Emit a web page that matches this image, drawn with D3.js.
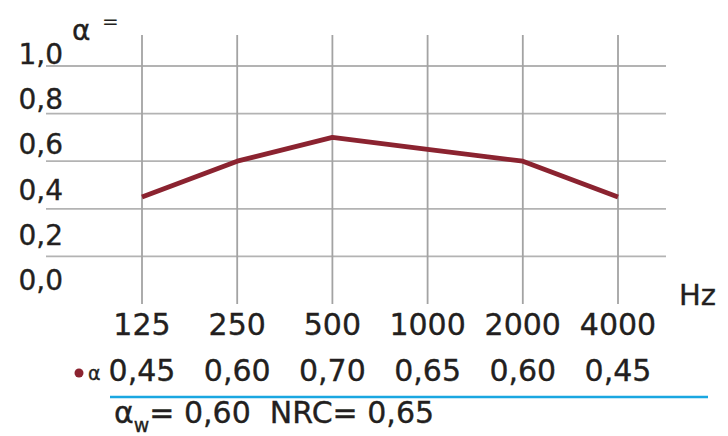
<!DOCTYPE html>
<html>
<head>
<meta charset="UTF-8">
<title>Absorption chart</title>
<script src="https://cdn.jsdelivr.net/npm/d3@7/dist/d3.min.js"></script>
<style>
	body { margin: 0; background: #fff; }
	svg text { font-family: "DejaVu Sans", sans-serif; fill: #231f20; stroke: #231f20; stroke-width: 0.35px; white-space: pre; }
</style>
</head>
<body>
<svg id="chart" width="728" height="436"></svg>
<script>
	// values
	var freqs = ["125", "250", "500", "1000", "2000", "4000"];
	var alpha = [0.45, 0.60, 0.70, 0.65, 0.60, 0.45];
	var yTicks = [0.0, 0.2, 0.4, 0.6, 0.8, 1.0];
	var alphaW = 0.60;
	var nrc = 0.65;

	var svg = d3.select("#chart");
	var comma = function (f) { return function (v) { return d3.format(f)(v).replace(".", ","); }; };
	var fmt1 = comma(".1f"), fmt2 = comma(".2f");

	var x = d3.scalePoint().domain(freqs).range([142, 618]);
	var y = d3.scaleLinear().domain([0, 1]).range([304, 66]);
	// tick labels in the original drift a bit from the grid, so they get their own scale
	var yLab = d3.scaleLinear().domain([0, 1]).range([290, 64]);

	// grid
	var grid = svg.append("g");
	grid.selectAll(".h").data(yTicks.filter(function (d) { return d > 0; })).enter()
		.append("line")
		.attr("x1", 46).attr("x2", 666)
		.attr("y1", function (d) { return y(d); }).attr("y2", function (d) { return y(d); })
		.attr("stroke", "#b3b3b3").attr("stroke-width", 1.8);
	grid.selectAll(".v").data(freqs).enter()
		.append("line")
		.attr("x1", function (d) { return x(d); }).attr("x2", function (d) { return x(d); })
		.attr("y1", 35).attr("y2", 304)
		.attr("stroke", "#a3a3a3").attr("stroke-width", 1.8);

	// y labels
	svg.selectAll(".ylab").data(yTicks).enter()
		.append("text")
		.attr("x", 63).attr("y", function (d) { return yLab(d); })
		.attr("text-anchor", "end")
		.style("font-size", "28px")
		.text(fmt1);

	svg.append("text").attr("x", 72).attr("y", 40).style("font-size", "28px").text("α");
	svg.append("text").attr("x", 102).attr("y", 28).style("font-size", "20px").style("stroke-width", 0).text("=");
	svg.append("text").attr("x", 679).attr("y", 305).style("font-size", "29px").text("Hz");

	// curve
	var line = d3.line()
		.x(function (d, i) { return x(freqs[i]); })
		.y(function (d) { return y(d); });
	svg.append("path").datum(alpha)
		.attr("d", line)
		.attr("fill", "none")
		.attr("stroke", "#8b2330")
		.attr("stroke-width", 4.8)
		.attr("stroke-linejoin", "round");

	// frequency row
	svg.selectAll(".xlab").data(freqs).enter()
		.append("text")
		.attr("x", function (d) { return x(d); }).attr("y", 335)
		.attr("text-anchor", "middle")
		.style("font-size", "30px")
		.text(function (d) { return d; });

	// value row
	svg.append("circle").attr("cx", 79).attr("cy", 373).attr("r", 4.5).attr("fill", "#8b2330");
	svg.append("text").attr("x", 88).attr("y", 380).style("font-size", "19px").text("α");
	svg.selectAll(".vlab").data(alpha).enter()
		.append("text")
		.attr("x", function (d, i) { return x(freqs[i]); }).attr("y", 381)
		.attr("text-anchor", "middle")
		.style("font-size", "30px")
		.text(fmt2);

	svg.append("line")
		.attr("x1", 110).attr("x2", 708).attr("y1", 397).attr("y2", 397)
		.attr("stroke", "#1aa7e1").attr("stroke-width", 2.5);

	var summary = svg.append("text").attr("x", 114).attr("y", 423).style("font-size", "30px");
	summary.append("tspan").text("α");
	summary.append("tspan").attr("dy", 9).style("font-size", "19px").text("w");
	summary.append("tspan").attr("dy", -9).text("= " + fmt2(alphaW) + "  NRC= " + fmt2(nrc));
</script>
</body>
</html>
